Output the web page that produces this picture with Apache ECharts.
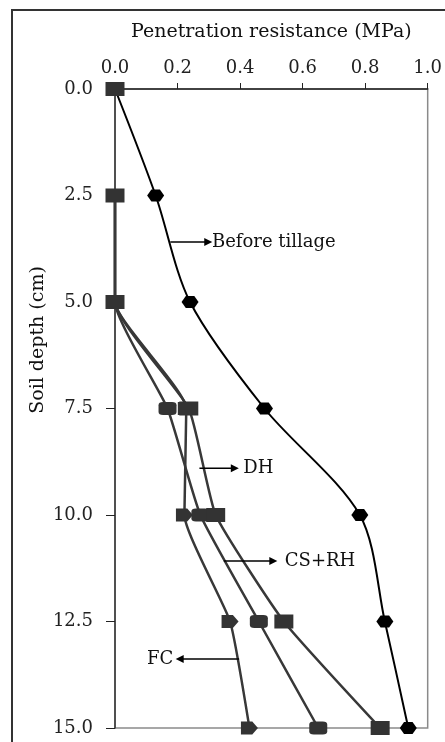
<!DOCTYPE html>
<html><head><meta charset="utf-8">
<script src="https://cdn.jsdelivr.net/npm/echarts@6/dist/echarts.min.js"></script>
<style>html,body{margin:0;padding:0;background:#fff}#c{width:445px;height:742px}</style>
</head><body><div id="c"></div>
<script>
var depths = [0, 2.5, 5, 7.5, 10, 12.5, 15];
var xTicks = [0, 0.2, 0.4, 0.6, 0.8, 1.0];
var beforeTillage = [0, 0.13, 0.24, 0.478, 0.783, 0.863, 0.938];
var dh   = [null, 0, 0, 0.236, 0.322, 0.54, 0.848];
var csrh = [null, 0, 0, 0.168, 0.273, 0.46, 0.65];
var fc   = [null, 0, 0, 0.228, 0.222, 0.368, 0.43];
var labels = [
  {text: 'Before tillage', arrow: [[0.177, 3.59], [0.295, 3.59]], at: [0.31, 3.59], align: 'left'},
  {text: 'DH', arrow: [[0.27, 8.9], [0.38, 8.9]], at: [0.41, 8.9], align: 'left'},
  {text: 'CS+RH', arrow: [[0.348, 11.08], [0.503, 11.08]], at: [0.543, 11.08], align: 'left'},
  {text: 'FC', arrow: [[0.397, 13.38], [0.21, 13.38]], at: [0.186, 13.38], align: 'right'}
];
function pairs(vals){ return vals.map(function(v,i){ return v===null?null:[v, depths[i]]; }).filter(function(p){return p;}); }
var FONT = 'DejaVu Serif';
var chart = echarts.init(document.getElementById('c'), null, {renderer:'canvas'});
var treat = function(name, vals, sym, size){
  return {name:name, type:'line', data:pairs(vals), smooth:0.15, symbol:sym, symbolSize:size,
    lineStyle:{color:'#383838', width:2.5}, itemStyle:{color:'#333'}, z:3};
};
var HEX = 'path://M0,5 L4,0 L12,0 L16,5 L12,10 L4,10 Z';
var PENT = 'path://M0,0 L10,0 L15,5 L10,10 L0,10 Z';
var btData = pairs(beforeTillage).map(function(p,i){ return i===0?{value:p, symbol:'rect', symbolSize:[19,14], itemStyle:{color:'#333'}}:p; });
chart.setOption({
  animation:false,
  grid:{left:115, right:8, top:89, bottom:14, show:true, borderColor:'#8a8a8a', borderWidth:1.5, backgroundColor:'transparent'},
  xAxis:{type:'value', position:'top', min:0, max:1, interval:0.2,
    name:'Penetration resistance (MPa)', nameLocation:'middle', nameGap:47,
    nameTextStyle:{fontFamily:FONT, fontSize:19, color:'#111'},
    axisLine:{show:true, lineStyle:{color:'#222', width:1.5}},
    axisTick:{show:true, length:6, lineStyle:{color:'#222'}},
    axisLabel:{fontFamily:FONT, fontSize:18, color:'#222', margin:12, alignMaxLabel:'center', alignMinLabel:'center', formatter:function(v){return v.toFixed(1);}},
    splitLine:{show:false}},
  yAxis:{type:'value', inverse:true, min:0, max:15, interval:2.5,
    axisLine:{show:true, lineStyle:{color:'#333', width:1.5}},
    axisTick:{show:true, length:9, lineStyle:{color:'#222'}},
    axisLabel:{fontFamily:FONT, fontSize:18, color:'#222', margin:22, formatter:function(v){return v.toFixed(1);}},
    splitLine:{show:false}},
  series:[
    treat('FC', fc, PENT, [17,13]),
    treat('CS+RH', csrh, 'roundRect', [18,13]),
    treat('DH', dh, 'rect', [19,14]),
    {name:'Before tillage', type:'line', data:btData, smooth:0.3, symbol:HEX, symbolSize:[17,12],
      lineStyle:{color:'#000', width:2}, itemStyle:{color:'#000'}, z:4}
  ]
});
var extra = [
  {type:'rect', shape:{x:12, y:10, width:440, height:760}, style:{fill:'none', stroke:'#333', lineWidth:2}, silent:true},
  {type:'text', x:38, y:340, rotation:Math.PI/2, style:{text:'Soil depth (cm)', fontFamily:FONT, fontSize:19, fill:'#111', align:'center', verticalAlign:'middle'}}
];
labels.forEach(function(l){
  var a = chart.convertToPixel({gridIndex:0}, l.arrow[0]);
  var b = chart.convertToPixel({gridIndex:0}, l.arrow[1]);
  var t = chart.convertToPixel({gridIndex:0}, l.at);
  var dir = b[0] > a[0] ? 1 : -1;
  extra.push({type:'line', shape:{x1:a[0], y1:a[1], x2:b[0], y2:b[1]}, style:{stroke:'#000', lineWidth:1.5}, z:10});
  extra.push({type:'polygon', shape:{points:[[b[0]+dir*5, b[1]], [b[0]-dir*3, b[1]-4], [b[0]-dir*3, b[1]+4]]}, style:{fill:'#000'}, z:10});
  extra.push({type:'text', x:t[0], y:t[1], style:{text:l.text, fontFamily:FONT, fontSize:18, fill:'#111', align:l.align, verticalAlign:'middle'}, z:10});
});
chart.setOption({graphic: extra}, {replaceMerge:['graphic']});
</script></body></html>
